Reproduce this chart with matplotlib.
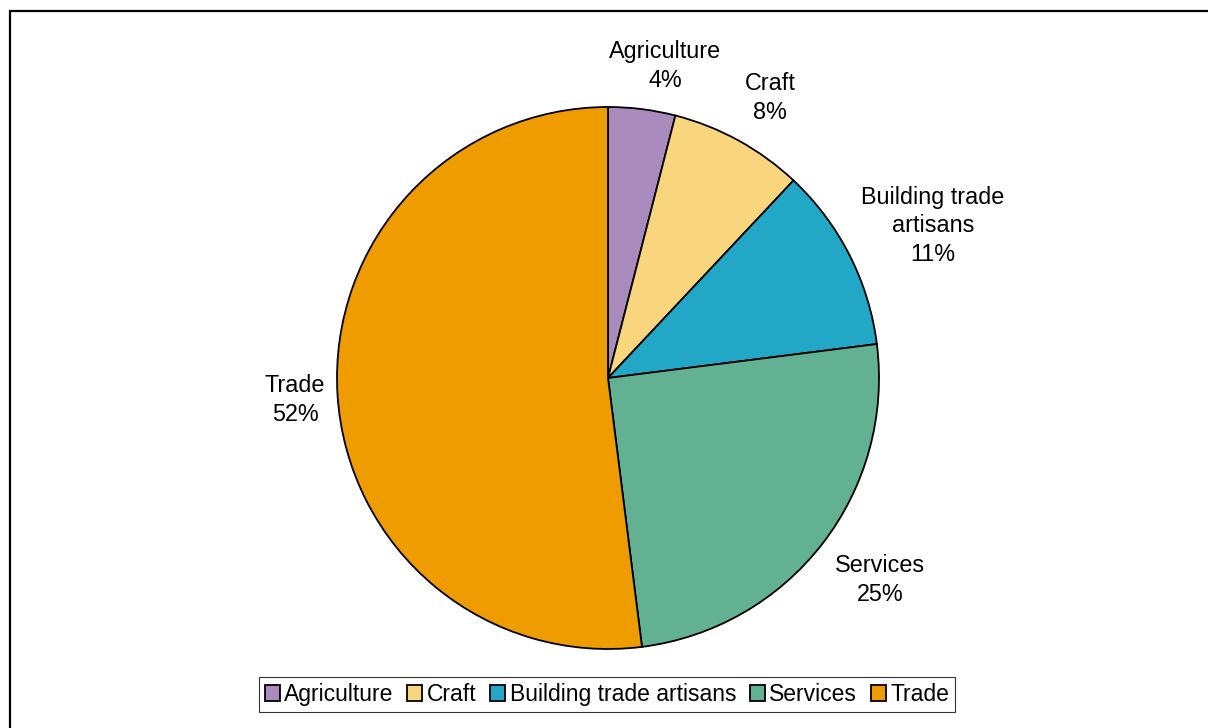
import matplotlib
matplotlib.use("Agg")
import matplotlib.pyplot as plt
from matplotlib.patches import Rectangle, Patch

plt.rcParams['font.family'] = ['Liberation Sans', 'DejaVu Sans']

categories = ["Agriculture", "Craft", "Building trade artisans", "Services", "Trade"]
shares = [4, 8, 11, 25, 52]
label_texts = ["Agriculture", "Craft", "Building trade\nartisans", "Services", "Trade"]
colors = ["#A98BBE", "#F9D67E", "#22A7C7", "#63B193", "#EE9C00"]

W, H = 1208, 728
fig = plt.figure(figsize=(W / 100, H / 100), dpi=100)

# Pie axes: centre and radius in pixels
cx, cy, r = 608, 378, 271
ax = fig.add_axes([(cx - r) / W, (H - cy - r) / H, 2 * r / W, 2 * r / H])
wedges, _ = ax.pie(shares, colors=colors, startangle=90, counterclock=False,
                   wedgeprops=dict(edgecolor="black", linewidth=1.3))
ax.set_xlim(-1, 1)
ax.set_ylim(-1, 1)
ax.set_aspect("equal")
ax.axis("off")

# Data label positions (in pie radius units)
label_pos = [(0.210, 1.151), (0.598, 1.033), (1.199, 0.561), (1.004, -0.745), (-1.155, -0.081)]
for txt, val, (lx, ly) in zip(label_texts, shares, label_pos):
    ax.text(lx, ly, f"{txt}\n{val}%", ha="center", va="center", fontsize=16.8,
            linespacing=1.3, clip_on=False)

handles = [Patch(facecolor=c, edgecolor="black", linewidth=1.3) for c in colors]
leg = fig.legend(handles, categories, loc="center", bbox_to_anchor=(607 / W, 1 - 694.5 / H),
                 ncol=5, fontsize=16.5, frameon=True, fancybox=False, edgecolor="black",
                 handlelength=0.65, handleheight=0.65, handletextpad=0.2, columnspacing=0.6,
                 borderpad=0.25, borderaxespad=0)
leg.get_frame().set_linewidth(0.8)

# Chart-area border
fig.patches.append(Rectangle((10 / W, -0.1), 1.2, 1 - 11 / H + 0.1, transform=fig.transFigure,
                             fill=False, edgecolor="black", linewidth=1.6))

fig.savefig("out.png", dpi=100)
